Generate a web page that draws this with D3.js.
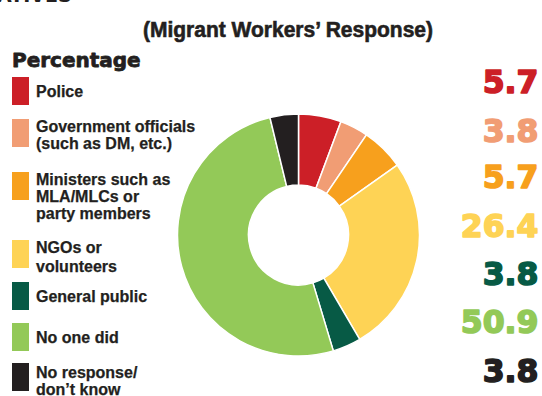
<!DOCTYPE html>
<html>
<head>
<meta charset="utf-8">
<script src="https://cdn.jsdelivr.net/npm/d3@7"></script>
<style>
  html, body { margin: 0; padding: 0; background: #fff; }
  svg { display: block; }
</style>
</head>
<body>
<svg id="chart" width="542" height="396"></svg>
<script>
// Who helped the migrant workers: share of responses (%)
const categories = [
  ["Police"],
  ["Government officials", "(such as DM, etc.)"],
  ["Ministers such as", "MLA/MLCs or", "party members"],
  ["NGOs or", "volunteers"],
  ["General public"],
  ["No one did"],
  ["No response/", "don\u2019t know"]
];
const values = [5.7, 3.8, 5.7, 26.4, 3.8, 50.9, 3.8];
const valueLabels = ["5.7", "3.8", "5.7", "26.4", "3.8", "50.9", "3.8"];
const colors = ["#cc1f27", "#f19d74", "#f7a01d", "#fed355", "#075a45", "#93c958", "#231f20"];

const legendTop = [77, 119, 172, 240, 282, 323, 363];
const legendLead = [0, 16.5, 16.8, 18.5, 0, 0, 16.8];
const numberBaseline = [93, 142, 188, 237, 285, 333, 382];

const svg = d3.select("#chart");

// header fragment cut off at the top edge
svg.append("text")
  .attr("x", -3).attr("y", 2)
  .attr("font-family", "DejaVu Sans").attr("font-weight", "bold")
  .attr("font-size", 19).attr("fill", "#231f20")
  .text("ATIVES");

svg.append("text")
  .attr("x", 288).attr("y", 37)
  .attr("text-anchor", "middle")
  .attr("font-family", "Liberation Sans Narrow, Liberation Sans, Arial, sans-serif")
  .attr("font-weight", "bold")
  .attr("font-size", 22)
  .attr("textLength", 290)
  .attr("lengthAdjust", "spacingAndGlyphs")
  .attr("fill", "#231f20")
  .attr("stroke", "#231f20").attr("stroke-width", 0.6)
  .text("(Migrant Workers\u2019 Response)");

svg.append("text")
  .attr("x", 12).attr("y", 67)
  .attr("font-family", "DejaVu Sans").attr("font-weight", "bold")
  .attr("font-size", 20).attr("fill", "#231f20")
  .attr("stroke", "#231f20").attr("stroke-width", 0.8)
  .attr("stroke-linejoin", "round")
  .text("Percentage");

// legend: single-line labels sit lower against their swatch than wrapped ones
const legend = svg.append("g");
categories.forEach((lines, i) => {
  legend.append("rect")
    .attr("x", 12).attr("y", legendTop[i])
    .attr("width", 17).attr("height", 28)
    .attr("fill", colors[i]);
  const first = lines.length === 1 ? 20 : (i === categories.length - 1 ? 15 : 13);
  const t = legend.append("text")
    .attr("x", 36).attr("y", legendTop[i] + first)
    .attr("font-family", "Liberation Sans, Arial, sans-serif")
    .attr("font-weight", "bold").attr("font-size", 16)
    .attr("fill", "#231f20")
    .attr("stroke", "#231f20").attr("stroke-width", 0.25);
  lines.forEach((ln, j) => {
    t.append("tspan").attr("x", 36).attr("dy", j === 0 ? 0 : legendLead[i]).text(ln);
  });
});

// donut
const cx = 298.5, cy = 235;
const pie = d3.pie().sort(null).value(d => d)(values);
const arc = d3.arc().innerRadius(50).outerRadius(121);
svg.append("g")
  .attr("transform", `translate(${cx},${cy})`)
  .selectAll("path")
  .data(pie)
  .join("path")
  .attr("d", arc)
  .attr("fill", (d, i) => colors[i])
  .attr("stroke", "#fff")
  .attr("stroke-width", 1.5);

// value labels on the right
svg.append("g")
  .selectAll("text")
  .data(valueLabels)
  .join("text")
  .attr("x", 538.5)
  .attr("y", (d, i) => numberBaseline[i])
  .attr("text-anchor", "end")
  .attr("font-family", "DejaVu Sans").attr("font-weight", "bold")
  .attr("font-size", 31.5)
  .attr("fill", (d, i) => colors[i])
  .attr("stroke", (d, i) => colors[i])
  .attr("stroke-width", 1.6)
  .attr("stroke-linejoin", "round")
  .text(d => d);
</script>
</body>
</html>
